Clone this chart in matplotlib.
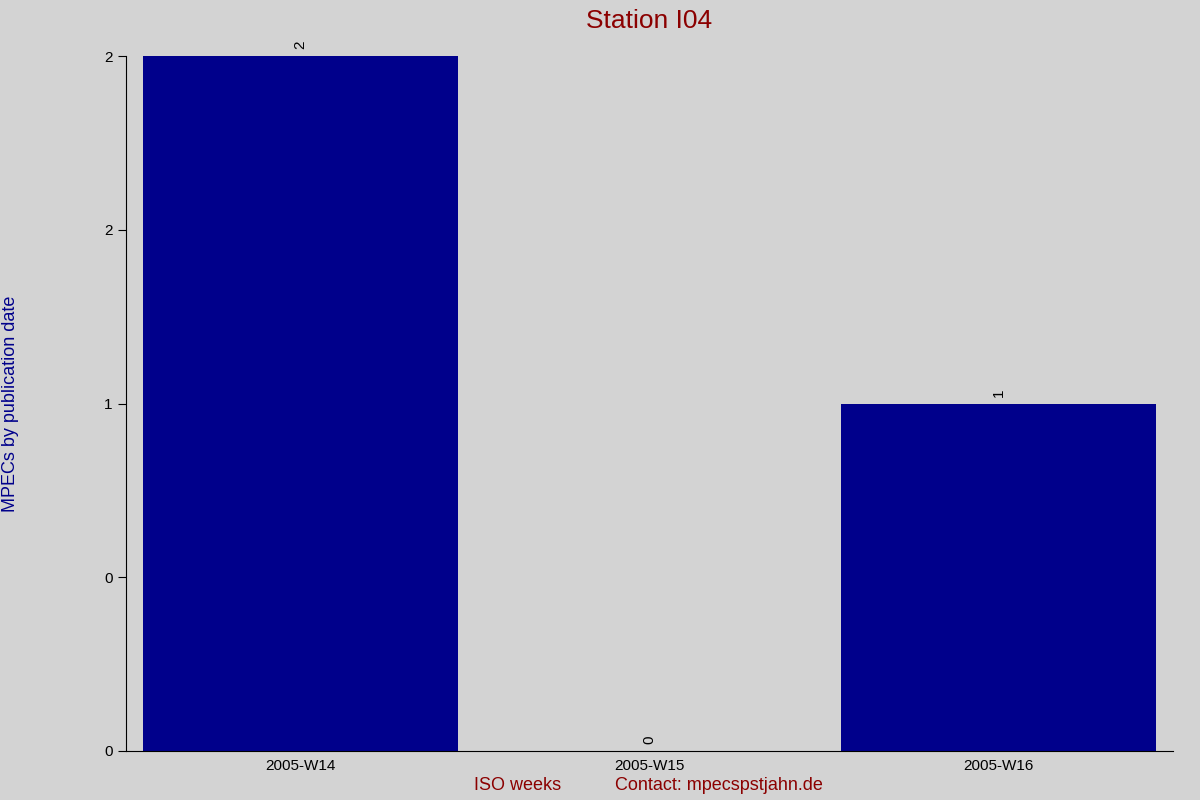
import matplotlib
matplotlib.use("Agg")
import matplotlib.pyplot as plt
from matplotlib.ticker import FormatStrFormatter

weeks = ["2005-W14", "2005-W15", "2005-W16"]
counts = [2, 0, 1]

plt.rcParams['font.family'] = ['Liberation Sans', 'DejaVu Sans']

fig = plt.figure(figsize=(12, 8), dpi=100, facecolor='#d3d3d3')
ax = fig.add_axes([0.105, 0.06125, 0.8725, 0.86875])
ax.set_facecolor('#d3d3d3')

bars = ax.bar(range(len(weeks)), counts, width=0.9, color='#00008b')
ax.bar_label(bars, labels=[str(c) for c in counts], rotation=90, padding=5, fontsize=11)

ax.set_xlim(-0.5, 2.5)
ax.set_ylim(0, 2)
ax.set_xticks(range(len(weeks)))
ax.set_xticklabels(weeks, fontsize=11)
ax.set_yticks([0, 0.5, 1, 1.5, 2])
ax.yaxis.set_major_formatter(FormatStrFormatter('%.0f'))
ax.tick_params(axis='y', labelsize=11, length=6, direction='out')
ax.tick_params(axis='x', length=0, pad=6)

ax.spines['top'].set_visible(False)
ax.spines['right'].set_visible(False)

ax.set_title("Station I04", color='#8b0000', fontsize=19, pad=20)
fig.text(11 / 1200, 0.4956, "MPECs by publication date", rotation=90,
         color='#00008b', fontsize=13, ha='center', va='center')
fig.text(518 / 1200, 1 - 786 / 800, "ISO weeks", color='#8b0000',
         fontsize=13, ha='center', va='center')
fig.text(719 / 1200, 1 - 786 / 800, "Contact: mpecspstjahn.de", color='#8b0000',
         fontsize=13, ha='center', va='center')

fig.savefig("out.png", dpi=100, facecolor=fig.get_facecolor())
